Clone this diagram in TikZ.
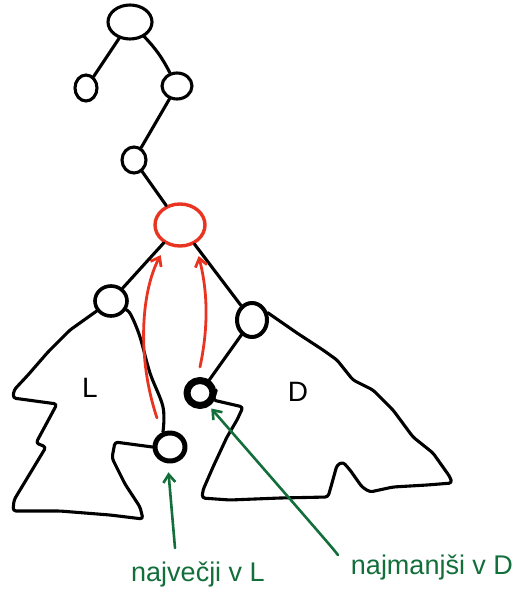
\documentclass[tikz,border=0pt]{standalone}
\usepackage{fontspec}
\setmainfont{Liberation Sans}
\usetikzlibrary{shapes.geometric, arrows.meta}
\definecolor{penred}{RGB}{232,52,32}
\definecolor{pengreen}{RGB}{18,110,58}
\begin{document}
\begin{tikzpicture}[x=1pt, y=-1pt, line cap=round, line join=round,
  ink/.style={draw=black, line width=3.1pt},
  knot/.style={ellipse, draw=black, line width=3.1pt, inner sep=0pt},
  redknot/.style={ellipse, draw=penred, line width=3.4pt, inner sep=0pt},
  redarrow/.style={draw=penred, line width=2.8pt, -{Straight Barb[length=8pt, width=12pt, line width=2.8pt]}},
  greenarrow/.style={draw=pengreen, line width=2.6pt, -{Straight Barb[length=8pt, width=12pt, line width=2.6pt]}},
  note/.style={text=pengreen, font=\fontsize{27}{30}\selectfont},
  region/.style={font=\fontsize{28}{32}\selectfont}]
\path[use as bounding box] (0,0) rectangle (520,599);

% upper part of the tree
\node[knot, minimum width=44pt, minimum height=34pt] (root) at (130,22) {};
\node[knot, minimum width=22pt, minimum height=26pt] (lc) at (86,88) {};
\node[knot, minimum width=30pt, minimum height=26pt] (rc) at (177,86) {};
\node[knot, minimum width=24pt, minimum height=26pt] (mid) at (134,160) {};
\node[redknot, minimum width=50pt, minimum height=42pt] (del) at (180,225) {};

% subtree roots and the extreme nodes
\node[knot, line width=3.6pt, minimum width=32pt, minimum height=30pt] (Ln) at (111,301) {};
\node[knot, line width=4pt, minimum width=30pt, minimum height=34pt] (Dn) at (252,320) {};
\node[knot, line width=5pt, minimum width=30pt, minimum height=28pt] (big) at (170,447) {};
\node[knot, line width=7pt, minimum width=26pt, minimum height=25pt] (small) at (200,393) {};

% edges
\draw[ink] (root) -- (lc);
\draw[ink] (root) to[bend left=8] (rc);
\draw[ink] (rc) -- (mid);
\draw[ink] (mid) -- (del);
\draw[ink] (del) -- (Ln);
\draw[ink] (del) -- (Dn);
\draw[ink] (Dn) -- (small);

% left subtree outline
\draw[ink, rounded corners=3pt] (Ln.215) -- (70,330) -- (48,352) -- (28,375) -- (14,390) -- (13,398)
  -- (57,404) -- (36,443) -- (46,447) -- (14,500) -- (13,511) -- (60,511) -- (110,515)
  -- (143,519) -- (140,507) -- (125,484) -- (112,458) -- (115,442) -- (big.180);
\draw[ink] plot[smooth, tension=0.6] coordinates {(Ln.-30) (131,315) (140,337) (150,373) (163,407) (big.115)};

% right subtree outline
\draw[ink, rounded corners=3pt] (Dn.25) -- (297,333) -- (323,350) -- (337,360) -- (353,380)
  -- (373,390) -- (393,410) -- (413,437) -- (433,453) -- (450,477) -- (452,483) -- (427,485)
  -- (393,487) -- (370,492) -- (362,487) -- (350,470) -- (343,462) -- (337,465) -- (332,483)
  -- (328,497) -- (280,498) -- (230,500) -- (202,498) -- (203,490) -- (213,467) -- (227,437)
  -- (237,420) -- (243,407) -- (213,400) -- (small.10);

% subtree names
\node[region] (labL) at (90,388) {L};
\node[region] (labD) at (298,392) {D};

% replacement candidates
\coordinate (rs1) at (157,418);
\coordinate (rs2) at (200,367);
\draw[redarrow, shorten >=12pt] (rs1) .. controls (136,355) and (142,290) .. (del.235);
\draw[redarrow, shorten >=13pt] (rs2) .. controls (210,320) and (206,285) .. (del.310);

% annotations
\node[note] (nL) at (198,574) {največji v L};
\node[note] (nD) at (432,567) {najmanjši v D};
\coordinate (gs1) at (175,548);
\coordinate (gs2) at (338,555);
\draw[greenarrow, shorten >=9pt] (gs1) -- (big.262);
\draw[greenarrow, shorten >=3pt] (gs2) .. controls (330,545) .. (small.-55);
\end{tikzpicture}
\end{document}
